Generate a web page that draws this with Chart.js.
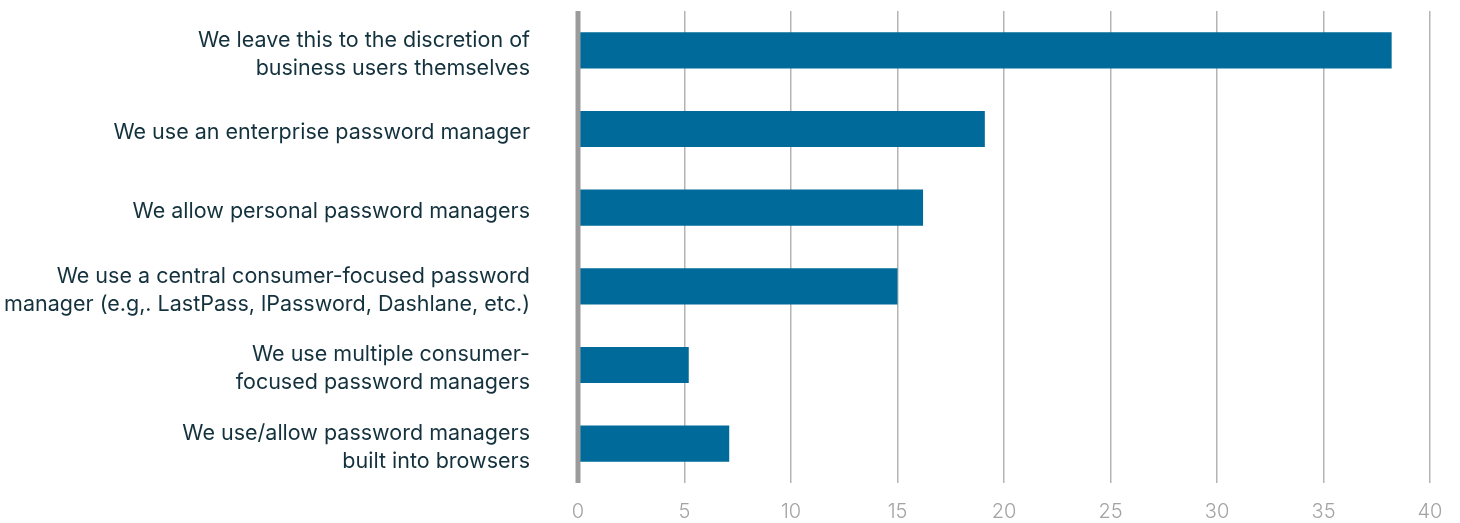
<!DOCTYPE html>
<html>
<head>
<meta charset="utf-8">
<script src="https://cdn.jsdelivr.net/npm/chart.js@4.4.1/dist/chart.umd.min.js"></script>
<style>
  html, body { margin: 0; padding: 0; background: #ffffff; }
  #wrap { position: relative; width: 1460px; height: 523px; }
</style>
</head>
<body>
<div id="wrap"><canvas id="chart"></canvas></div>
<script>
// Password management approaches (share of respondents, %)
const categories = [
  ["We leave this to the discretion of", "business users themselves"],
  "We use an enterprise password manager",
  "We allow personal password managers",
  ["We use a central consumer-focused password", "manager (e.g,. LastPass, lPassword, Dashlane, etc.)"],
  ["We use multiple consumer-", "focused password managers"],
  ["We use/allow password managers", "built into browsers"]
];
const shares = [38.2, 19.1, 16.2, 15.0, 5.2, 7.1];
const xTicks = [0, 5, 10, 15, 20, 25, 30, 35, 40];

const BAR = '#006b9a';
const TEXT = '#14323d';

// thick grey baseline at zero, drawn over the bars' left ends
const zeroLine = {
  id: 'zeroLine',
  afterDatasetsDraw(chart) {
    const { ctx, chartArea, scales } = chart;
    const x = scales.x.getPixelForValue(0);
    ctx.save();
    ctx.strokeStyle = '#9b9b9b';
    ctx.lineWidth = 5;
    ctx.beginPath();
    ctx.moveTo(x, chartArea.top);
    ctx.lineTo(x, chartArea.bottom);
    ctx.stroke();
    ctx.restore();
  }
};

new Chart(document.getElementById('chart'), {
  type: 'bar',
  data: {
    labels: categories,
    datasets: [{
      data: shares,
      backgroundColor: BAR,
      borderWidth: 0,
      categoryPercentage: 1,
      barPercentage: 0.46
    }]
  },
  options: {
    indexAxis: 'y',
    responsive: true,
    maintainAspectRatio: false,
    animation: false,
    layout: { padding: { top: 11, right: 30, bottom: 0, left: 0 } },
    plugins: { legend: { display: false }, tooltip: { enabled: false } },
    scales: {
      x: {
        min: 0,
        max: 40,
        afterBuildTicks(scale) { scale.ticks = xTicks.map(v => ({ value: v })); },
        afterFit(scale) { scale.height = 40; scale.paddingLeft = 0; scale.paddingRight = 0; },
        grid: { color: '#b4b4b4', lineWidth: 1.5, drawTicks: false },
        border: { display: false },
        ticks: {
          padding: 17,
          color: '#a3a3a3',
          font: { family: 'Inter', size: 20, weight: 300 }
        }
      },
      y: {
        afterFit(scale) { scale.width = 578; scale.paddingTop = 0; scale.paddingBottom = 0; },
        grid: { display: false, drawTicks: false },
        border: { display: false },
        ticks: {
          padding: 48,
          labelOffset: 4,
          color: TEXT,
          font: { family: 'Inter', size: 21.5, lineHeight: 1.3 }
        }
      }
    }
  },
  plugins: [zeroLine]
});
</script>
</body>
</html>
